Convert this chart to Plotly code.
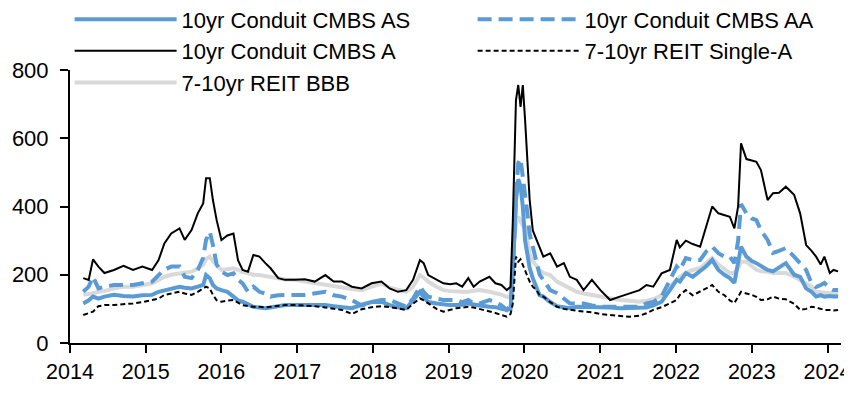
import plotly.graph_objects as go

dates = [
    "2014-03-06", "2014-04-01", "2014-04-22", "2014-05-18", "2014-06-16", "2014-08-01", "2014-09-16", "2014-11-01", "2014-12-16",
    "2015-02-01", "2015-03-04", "2015-04-01", "2015-05-04", "2015-06-13", "2015-07-08", "2015-08-10", "2015-09-09", "2015-10-05",
    "2015-10-19", "2015-11-06", "2015-11-21", "2015-12-09", "2016-01-01", "2016-01-30", "2016-02-28", "2016-03-21", "2016-04-12",
    "2016-05-08", "2016-06-03", "2016-07-02", "2016-07-31", "2016-08-25", "2016-10-01", "2016-11-03", "2016-12-20", "2017-02-06",
    "2017-03-26", "2017-05-16", "2017-06-25", "2017-08-04", "2017-09-21", "2017-11-07", "2017-12-25", "2018-02-10", "2018-03-22",
    "2018-05-01", "2018-06-10", "2018-07-13", "2018-08-15", "2018-09-02", "2018-09-24", "2018-11-03", "2018-12-06", "2019-01-08",
    "2019-02-06", "2019-03-07", "2019-04-05", "2019-05-01", "2019-05-30", "2019-07-16", "2019-08-14", "2019-09-12", "2019-10-08",
    "2019-10-26", "2019-11-06", "2019-11-21", "2019-12-02", "2019-12-13", "2019-12-24", "2020-01-04", "2020-01-15", "2020-01-26",
    "2020-02-10", "2020-02-28", "2020-03-14", "2020-04-01", "2020-05-04", "2020-06-06", "2020-07-09", "2020-08-07", "2020-09-09",
    "2020-10-12", "2020-11-21", "2021-01-01", "2021-02-17", "2021-04-05", "2021-05-22", "2021-07-09", "2021-08-11", "2021-09-13",
    "2021-10-23", "2021-12-02", "2022-01-04", "2022-01-19", "2022-02-17", "2022-03-22", "2022-04-27", "2022-05-26", "2022-06-24",
    "2022-07-24", "2022-08-22", "2022-09-17", "2022-10-09", "2022-10-27", "2022-11-10", "2022-12-06", "2023-01-01", "2023-01-23",
    "2023-02-14", "2023-03-18", "2023-04-13", "2023-05-12", "2023-06-14", "2023-07-24", "2023-08-22", "2023-09-20", "2023-10-16",
    "2023-11-07", "2023-11-29", "2023-12-17", "2024-01-12", "2024-01-30", "2024-02-21",
]

cmbs_as = [
    116, 125, 136, 130, 136, 141, 138, 136, 140, 141, 150, 155, 160, 165, 162, 160, 165, 170, 199, 190,
    170, 160, 155, 150, 136, 125, 121, 115, 106, 104, 102, 104, 108, 111, 111, 111, 111, 111, 108, 106,
    102, 112, 120, 121, 111, 105, 102, 125, 150, 135, 120, 116, 113, 111, 111, 112, 116, 112, 110, 106,
    105, 100, 97, 100, 214, 420, 480, 460, 400, 300, 260, 220, 190, 160, 140, 136, 120, 108, 104, 102,
    106, 106, 106, 106, 104, 102, 102, 102, 104, 110, 121, 155, 185, 180, 205, 194, 210, 225, 243, 214,
    200, 190, 176, 240, 282, 253, 240, 234, 225, 214, 210, 220, 234, 200, 194, 160, 150, 136, 140, 136,
    138, 136, 136,
]

cmbs_aa = [
    150, 165, 194, 160, 165, 170, 170, 170, 175, 180, 199, 215, 224, 224, 194, 190, 214, 250, 302, 326,
    287, 230, 209, 199, 204, 185, 175, 150, 165, 150, 145, 136, 140, 141, 141, 141, 145, 150, 140, 136,
    126, 110, 120, 126, 126, 115, 106, 130, 165, 150, 136, 130, 126, 126, 126, 120, 126, 116, 116, 126,
    120, 110, 97, 110, 214, 420, 527, 540, 490, 450, 380, 320, 280, 230, 200, 185, 155, 146, 130, 116,
    116, 116, 110, 106, 106, 106, 106, 106, 116, 120, 136, 185, 224, 214, 249, 243, 243, 268, 282, 263,
    253, 253, 234, 300, 407, 380, 365, 360, 330, 302, 264, 270, 278, 253, 235, 214, 175, 164, 170, 176,
    160, 155, 155,
]

cmbs_a = [
    190, 185, 245, 224, 205, 214, 226, 214, 224, 214, 243, 292, 321, 336, 302, 331, 380, 409, 483, 483,
    419, 360, 302, 315, 321, 243, 214, 209, 258, 253, 234, 219, 190, 185, 185, 187, 180, 199, 180, 180,
    165, 160, 175, 180, 160, 150, 155, 185, 243, 234, 199, 185, 175, 172, 175, 165, 190, 165, 180, 194,
    175, 170, 155, 165, 360, 712, 756, 692, 756, 653, 550, 420, 330, 300, 280, 253, 263, 224, 234, 194,
    185, 155, 185, 155, 126, 136, 146, 155, 170, 165, 204, 214, 302, 280, 300, 290, 282, 340, 400, 380,
    375, 370, 336, 400, 585, 539, 535, 531, 507, 419, 439, 440, 458, 434, 380, 287, 270, 253, 230, 253,
    205, 214, 210,
]

reit_single_a = [
    82, 88, 92, 108, 111, 111, 113, 116, 120, 126, 130, 141, 145, 150, 145, 141, 150, 160, 165, 160,
    141, 125, 121, 124, 126, 118, 111, 108, 106, 106, 104, 106, 108, 111, 111, 110, 108, 104, 100, 97,
    85, 99, 105, 108, 105, 100, 97, 115, 131, 125, 116, 100, 92, 98, 102, 104, 106, 104, 100, 92,
    88, 82, 77, 85, 116, 253, 238, 245, 230, 214, 200, 180, 165, 155, 140, 136, 120, 106, 100, 97,
    95, 92, 90, 85, 82, 80, 77, 80, 87, 97, 105, 116, 126, 141, 155, 140, 150, 160, 170, 150,
    140, 125, 117, 135, 150, 145, 141, 135, 126, 128, 136, 130, 128, 115, 97, 100, 106, 104, 100, 97,
    97, 95, 97,
]

reit_bbb = [
    141, 143, 146, 150, 152, 160, 165, 165, 170, 175, 185, 194, 200, 204, 206, 209, 218, 229, 245, 253,
    240, 230, 214, 216, 219, 214, 208, 205, 200, 199, 196, 192, 190, 186, 185, 180, 176, 170, 166, 162,
    158, 155, 165, 175, 162, 155, 150, 165, 199, 192, 180, 165, 155, 152, 150, 150, 150, 152, 155, 150,
    146, 142, 135, 135, 253, 351, 370, 360, 345, 341, 300, 260, 240, 225, 214, 205, 199, 180, 170, 160,
    150, 145, 140, 136, 130, 126, 124, 121, 124, 128, 140, 165, 185, 194, 205, 214, 220, 235, 249, 230,
    215, 205, 205, 220, 238, 238, 225, 215, 210, 209, 205, 205, 205, 195, 185, 176, 165, 150, 148, 148,
    146, 146, 146,
]

year_ticks = ["2014", "2015", "2016", "2017", "2018", "2019", "2020", "2021", "2022", "2023", "2024"]
y_ticks = [0, 200, 400, 600, 800]

FONT = "Liberation Sans Narrow, Arial Narrow, Liberation Sans, Arial, sans-serif"
BLUE = "#5B9BD5"
GREY = "#D9D9D9"

fig = go.Figure()
# grey drawn first (behind), legend order kept with legendrank
fig.add_trace(go.Scatter(x=dates, y=reit_bbb, name="7-10yr REIT BBB", mode="lines",
                         line=dict(color=GREY, width=4), legendrank=5))
fig.add_trace(go.Scatter(x=dates, y=cmbs_as, name="10yr Conduit CMBS AS", mode="lines",
                         line=dict(color=BLUE, width=4), legendrank=1))
fig.add_trace(go.Scatter(x=dates, y=cmbs_aa, name="10yr Conduit CMBS AA", mode="lines",
                         line=dict(color=BLUE, width=4, dash="14px,7px"), legendrank=2))
fig.add_trace(go.Scatter(x=dates, y=cmbs_a, name="10yr Conduit CMBS A", mode="lines",
                         line=dict(color="black", width=2), legendrank=3))
fig.add_trace(go.Scatter(x=dates, y=reit_single_a, name="7-10yr REIT Single-A", mode="lines",
                         line=dict(color="black", width=2, dash="5px,3px"), legendrank=4))

# the page body adds an 8px margin, so the figure is 8px smaller and margins shifted
fig.update_layout(
    width=844, height=389,
    margin=dict(l=62, r=11, t=62, b=54, autoexpand=False),
    paper_bgcolor="white", plot_bgcolor="white",
    font=dict(family=FONT, size=22, color="black"),
    legend=dict(orientation="h", x=-0.0005, xanchor="left", y=1.262, yanchor="top",
                entrywidth=286, entrywidthmode="pixels", bgcolor="rgba(0,0,0,0)",
                font=dict(family=FONT, size=22, color="black"), itemwidth=102,
                tracegroupgap=0),
    showlegend=True,
)
fig.update_xaxes(
    type="date", range=["2014-01-01", "2024-03-06"],
    tickvals=[f"{y}-01-01" for y in year_ticks], ticktext=year_ticks,
    showline=True, linecolor="black", linewidth=2, ticks="outside", ticklen=8,
    tickwidth=2, tickcolor="black", showgrid=False, zeroline=False,
    tickfont=dict(family=FONT, size=21.5), ticklabeloverflow="allow",
)
fig.update_yaxes(
    range=[0, 800], tickvals=y_ticks,
    showline=True, linecolor="black", linewidth=2, ticks="outside", ticklen=8,
    tickwidth=2, tickcolor="black", showgrid=False, zeroline=False,
    tickfont=dict(family=FONT, size=22), ticklabelstandoff=7,
)

fig.write_html("out.html")
